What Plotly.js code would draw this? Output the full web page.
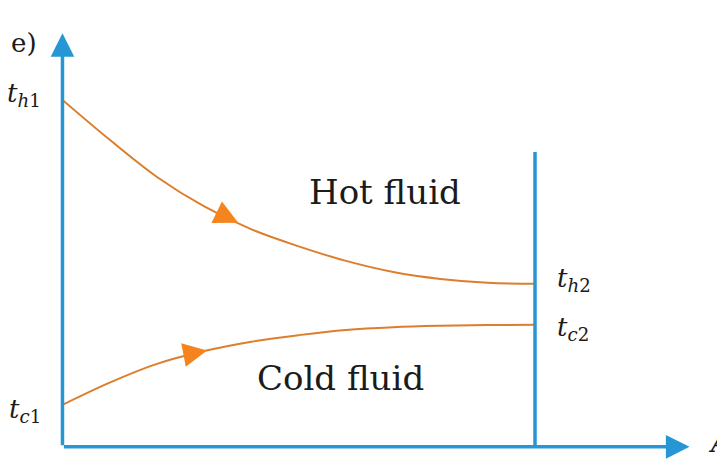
<!DOCTYPE html>
<html><head><meta charset="utf-8">
<script src="https://cdn.plot.ly/plotly-3.0.1.min.js"></script>
<style>html,body{margin:0;padding:0;background:#fff}#chart{width:717px;height:461px}</style>
</head><body><div id="chart"></div>
<script>
// position along the exchanger (arbitrary units) and fluid temperatures
const position = [0, 1, 2, 3, 4, 5, 6, 7, 8, 9, 10];
const hotTemp  = [100, 88.5, 77.8, 69.3, 62.7, 57.8, 53.6, 50.4, 48.4, 47.3, 47.0];
const coldTemp = [12.1, 18.5, 23.9, 27.6, 30.3, 32.2, 33.7, 34.5, 34.9, 35.1, 35.2];
const exchangerEndX = [10, 10];
const exchangerEndY = [0, 85];
const flowArrowX = [3.72, 3.06];
const flowArrowY = [64.6, 27.8];
const flowArrowAngle = [26, -11];
const seriesLabels = ["Hot fluid", "Cold fluid"];
const endLabels = ["<i>t</i><sub><i>h</i>1</sub>", "<i>t</i><sub><i>c</i>1</sub>", "<i>t</i><sub><i>h</i>2</sub>", "<i>t</i><sub><i>c</i>2</sub>"];

const ORANGE = '#dc7e2c', ARROW_OR = '#f5841f', BLUE = '#2796d4', TXT = '#1b1b1b';
const XMAX = 13.28, YMAX = 119.3;
const serif = 'DejaVu Serif, Liberation Serif, serif';

const traces = [
  {x: position, y: hotTemp, mode: 'lines', line: {color: ORANGE, width: 2, shape: 'spline'}, hoverinfo: 'skip'},
  {x: position, y: coldTemp, mode: 'lines', line: {color: ORANGE, width: 2, shape: 'spline'}, hoverinfo: 'skip'},
  {x: exchangerEndX, y: exchangerEndY, mode: 'lines', line: {color: BLUE, width: 3.5}, hoverinfo: 'skip'}
];

const ann = [];
// axes as arrows
ann.push({x: XMAX - 0.01, y: 0, ax: 0, ay: 0, axref: 'x', ayref: 'y', xref: 'x', yref: 'y', text: '',
  showarrow: true, arrowhead: 2, arrowwidth: 3.5, arrowsize: 1.35, arrowcolor: BLUE});
ann.push({x: 0, y: YMAX - 0.05, ax: 0, ay: 0, axref: 'x', ayref: 'y', xref: 'x', yref: 'y', text: '',
  showarrow: true, arrowhead: 2, arrowwidth: 3.5, arrowsize: 1.35, arrowcolor: BLUE});
// flow arrows
for (let i = 0; i < flowArrowX.length; i++) {
  const a = flowArrowAngle[i] * Math.PI / 180, L = 18;
  ann.push({x: flowArrowX[i], y: flowArrowY[i], xref: 'x', yref: 'y', text: '', showarrow: true,
    ax: -L * Math.cos(a), ay: -L * Math.sin(a), arrowhead: 2, arrowwidth: 2, arrowsize: 2.4, arrowcolor: ARROW_OR});
}
// fluid labels
ann.push({x: 6.83, y: 73.5, xref: 'x', yref: 'y', text: seriesLabels[0], showarrow: false,
  font: {family: serif, size: 34, color: TXT}});
ann.push({x: 5.88, y: 19.8, xref: 'x', yref: 'y', text: seriesLabels[1], showarrow: false,
  font: {family: serif, size: 34, color: TXT}});
// end temperature labels
ann.push({x: -0.03, y: hotTemp[0], xref: 'paper', yref: 'y', xanchor: 'right', yanchor: 'middle', yshift: 5,
  text: endLabels[0], showarrow: false, font: {family: serif, size: 26, color: TXT}});
ann.push({x: -0.03, y: coldTemp[0], xref: 'paper', yref: 'y', xanchor: 'right', yanchor: 'middle', yshift: -6,
  text: endLabels[1], showarrow: false, font: {family: serif, size: 26, color: TXT}});
ann.push({x: 10.42, y: hotTemp[10], xref: 'x', yref: 'y', xanchor: 'left', yanchor: 'middle', yshift: 4,
  text: endLabels[2], showarrow: false, font: {family: serif, size: 26, color: TXT}});
ann.push({x: 10.42, y: coldTemp[10], xref: 'x', yref: 'y', xanchor: 'left', yanchor: 'middle', yshift: -4,
  text: endLabels[3], showarrow: false, font: {family: serif, size: 26, color: TXT}});
// clipped axis titles
ann.push({x: -0.036, y: 0.975, xref: 'paper', yref: 'paper', xanchor: 'right', yanchor: 'middle',
  text: 'e)', showarrow: false, font: {family: serif, size: 26, color: TXT}});
ann.push({x: 1.025, y: 0.01, xref: 'paper', yref: 'paper', xanchor: 'left', yanchor: 'middle',
  text: '<i>A</i>', showarrow: false, font: {family: serif, size: 28, color: TXT}});

const layout = {
  width: 717, height: 461,
  margin: {l: 62, r: 27, t: 33, b: 14, pad: 0},
  paper_bgcolor: '#fff', plot_bgcolor: '#fff',
  showlegend: false,
  xaxis: {range: [-0.01, XMAX], showgrid: false, zeroline: false, showticklabels: false, showline: false, ticks: '', fixedrange: true},
  yaxis: {range: [-0.05, YMAX], showgrid: false, zeroline: false, showticklabels: false, showline: false, ticks: '', fixedrange: true},
  annotations: ann
};
Plotly.newPlot('chart', traces, layout, {displayModeBar: false, staticPlot: true});
</script></body></html>
